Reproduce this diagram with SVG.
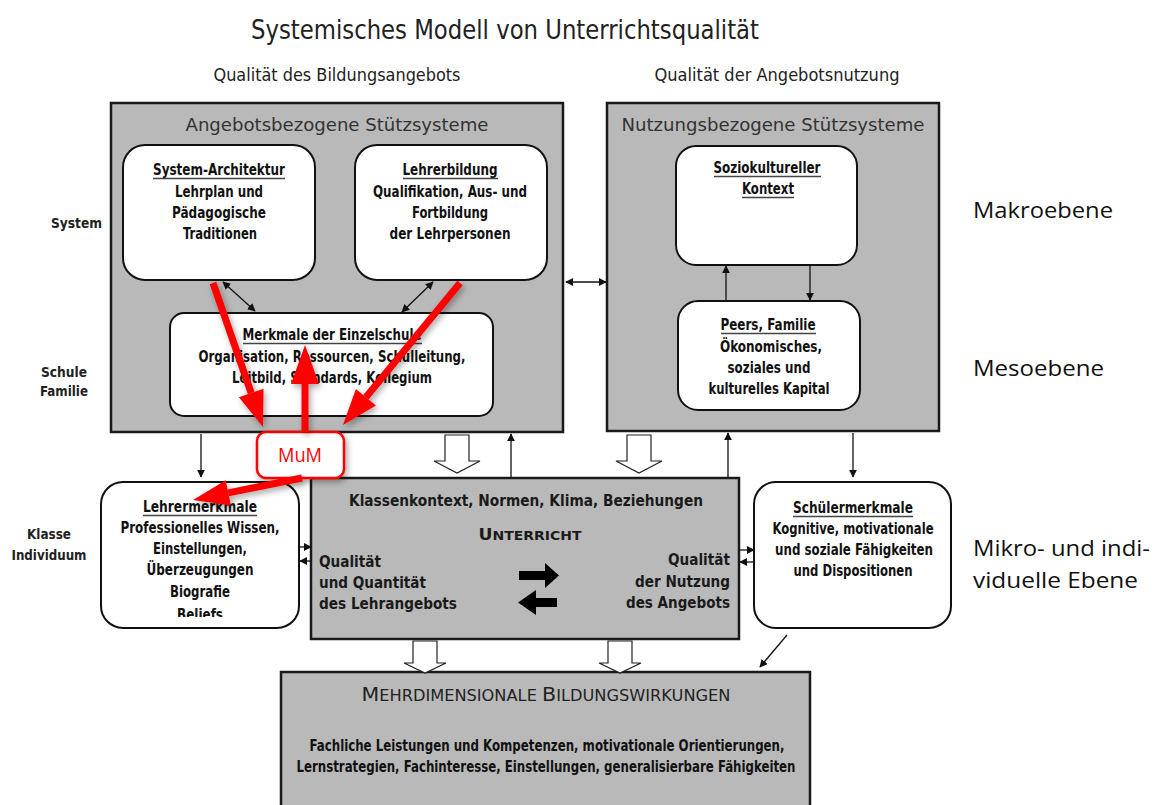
<svg xmlns="http://www.w3.org/2000/svg" width="1161" height="805" viewBox="0 0 1161 805">
<defs>
<marker id="ah" viewBox="0 0 10 10" refX="9" refY="5" markerWidth="8" markerHeight="8" markerUnits="userSpaceOnUse" orient="auto-start-reverse"><path d="M0,0 L10,5 L0,10 z" fill="#111"/></marker>
<filter id="sh" x="-30%" y="-30%" width="160%" height="160%"><feDropShadow dx="2" dy="3" stdDeviation="3" flood-color="#000" flood-opacity="0.35"/></filter>
<clipPath id="clipL"><rect x="100" y="480" width="200" height="137"/></clipPath>
</defs>
<style>
.grey{fill:#b9b9b9;stroke:#1a1a1a;stroke-width:2.5}
.wb{fill:#fff;stroke:#111;stroke-width:2}
.bt{font-family:"Liberation Sans Narrow","DejaVu Sans Condensed","Liberation Sans",sans-serif;font-weight:bold;font-size:15px;fill:#111;text-anchor:middle}
.hd{font-family:"DejaVu Sans","Liberation Sans",sans-serif;font-size:18px;fill:#333;text-anchor:middle}
.vt{font-family:"DejaVu Sans","Liberation Sans",sans-serif;font-weight:bold;font-size:15px;fill:#1a1a1a}
.lv{font-family:"Liberation Sans Narrow","DejaVu Sans Condensed","Liberation Sans",sans-serif;font-weight:bold;font-size:14px;fill:#222}
.rl{font-family:"Open Sans","Noto Sans","Liberation Sans",sans-serif;font-size:22px;fill:#111}
.ul{stroke:#444;stroke-width:1.4}
.cn{stroke:#111;stroke-width:1.3;fill:none}
.hol{fill:#fff;stroke:#222;stroke-width:1.2}
.red{stroke:#ff0000;stroke-width:7;fill:none}
.redh{fill:#ff0000}
</style>

<g id="title">
<text x="505" y="39" font-family="Liberation Sans Narrow, DejaVu Sans Condensed, Liberation Sans, sans-serif" font-size="27" fill="#222" text-anchor="middle" textLength="508" lengthAdjust="spacingAndGlyphs">Systemisches Modell von Unterrichtsqualität</text>
<text x="337" y="81" font-family="Liberation Sans Narrow, DejaVu Sans Condensed, Liberation Sans, sans-serif" font-size="17" fill="#222" text-anchor="middle" textLength="247" lengthAdjust="spacingAndGlyphs">Qualität des Bildungsangebots</text>
<text x="777" y="81" font-family="Liberation Sans Narrow, DejaVu Sans Condensed, Liberation Sans, sans-serif" font-size="17" fill="#222" text-anchor="middle" textLength="245" lengthAdjust="spacingAndGlyphs">Qualität der Angebotsnutzung</text>
</g>

<g id="levels">
<text class="lv" x="102" y="228" text-anchor="end" textLength="51" lengthAdjust="spacingAndGlyphs">System</text>
<text class="lv" x="64" y="377" text-anchor="middle" textLength="46" lengthAdjust="spacingAndGlyphs">Schule</text>
<text class="lv" x="64" y="396" text-anchor="middle" textLength="48" lengthAdjust="spacingAndGlyphs">Familie</text>
<text class="lv" x="49" y="539" text-anchor="middle" textLength="44" lengthAdjust="spacingAndGlyphs">Klasse</text>
<text class="lv" x="49" y="560" text-anchor="middle" textLength="75" lengthAdjust="spacingAndGlyphs">Individuum</text>
<text class="rl" x="973" y="218" textLength="140" lengthAdjust="spacingAndGlyphs">Makroebene</text>
<text class="rl" x="973" y="376" textLength="131" lengthAdjust="spacingAndGlyphs">Mesoebene</text>
<text class="rl" x="973" y="556" textLength="177" lengthAdjust="spacingAndGlyphs">Mikro- und indi-</text>
<text class="rl" x="973" y="588" textLength="165" lengthAdjust="spacingAndGlyphs">viduelle Ebene</text>
</g>

<g id="angebot">
<rect class="grey" x="111" y="103" width="452" height="329"/>
<text class="hd" x="337" y="131" textLength="303" lengthAdjust="spacingAndGlyphs">Angebotsbezogene Stützsysteme</text>
</g>

<g id="nutzung">
<rect class="grey" x="607" y="103" width="332" height="328"/>
<text class="hd" x="773" y="131" textLength="303" lengthAdjust="spacingAndGlyphs">Nutzungsbezogene Stützsysteme</text>
</g>

<g id="systemarchitektur">
<rect class="wb" x="123" y="145" width="192" height="135" rx="22"/>
<text class="bt" x="219" y="175" textLength="132" lengthAdjust="spacingAndGlyphs">System-Architektur</text>
<line class="ul" x1="153" y1="178.5" x2="285" y2="178.5"/>
<text class="bt" x="219" y="197" textLength="88" lengthAdjust="spacingAndGlyphs">Lehrplan und</text>
<text class="bt" x="219" y="218" textLength="94" lengthAdjust="spacingAndGlyphs">Pädagogische</text>
<text class="bt" x="220" y="239" textLength="74" lengthAdjust="spacingAndGlyphs">Traditionen</text>
</g>

<g id="lehrerbildung">
<rect class="wb" x="355" y="145" width="192" height="135" rx="22"/>
<text class="bt" x="450" y="175" textLength="95" lengthAdjust="spacingAndGlyphs">Lehrerbildung</text>
<line class="ul" x1="403" y1="178.5" x2="498" y2="178.5"/>
<text class="bt" x="450" y="197" textLength="154" lengthAdjust="spacingAndGlyphs">Qualifikation, Aus- und</text>
<text class="bt" x="450" y="218" textLength="76" lengthAdjust="spacingAndGlyphs">Fortbildung</text>
<text class="bt" x="450" y="239" textLength="121" lengthAdjust="spacingAndGlyphs">der Lehrpersonen</text>
</g>

<g id="einzelschule">
<rect class="wb" x="170" y="313" width="323" height="103" rx="14"/>
<text class="bt" x="332" y="340" textLength="179" lengthAdjust="spacingAndGlyphs">Merkmale der Einzelschule</text>
<line class="ul" x1="243" y1="343.5" x2="422" y2="343.5"/>
<text class="bt" x="332" y="362" textLength="267" lengthAdjust="spacingAndGlyphs">Organisation, Ressourcen, Schulleitung,</text>
<text class="bt" x="332" y="383" textLength="200" lengthAdjust="spacingAndGlyphs">Leitbild, Standards, Kollegium</text>
</g>

<g id="soziokultur">
<rect class="wb" x="676" y="146" width="181" height="119" rx="20"/>
<text class="bt" x="767" y="173" textLength="107" lengthAdjust="spacingAndGlyphs">Soziokultureller</text>
<line class="ul" x1="714" y1="176.5" x2="821" y2="176.5"/>
<text class="bt" x="768" y="194" textLength="52" lengthAdjust="spacingAndGlyphs">Kontext</text>
<line class="ul" x1="742" y1="197.5" x2="794" y2="197.5"/>
</g>

<g id="peers">
<rect class="wb" x="678" y="301" width="182" height="109" rx="20"/>
<text class="bt" x="768" y="330" textLength="95" lengthAdjust="spacingAndGlyphs">Peers, Familie</text>
<line class="ul" x1="721" y1="333.5" x2="816" y2="333.5"/>
<text class="bt" x="771" y="352" textLength="102" lengthAdjust="spacingAndGlyphs">Ökonomisches,</text>
<text class="bt" x="769" y="373" textLength="83" lengthAdjust="spacingAndGlyphs">soziales und</text>
<text class="bt" x="769" y="394" textLength="121" lengthAdjust="spacingAndGlyphs">kulturelles Kapital</text>
</g>

<g id="lehrermerkmale">
<rect class="wb" x="101" y="482" width="198" height="146" rx="22"/>
<g clip-path="url(#clipL)">
<text class="bt" x="200" y="512" textLength="114" lengthAdjust="spacingAndGlyphs">Lehrermerkmale</text>
<line class="ul" x1="143" y1="515.5" x2="257" y2="515.5"/>
<text class="bt" x="200" y="533" textLength="159" lengthAdjust="spacingAndGlyphs">Professionelles Wissen,</text>
<text class="bt" x="200" y="554" textLength="94" lengthAdjust="spacingAndGlyphs">Einstellungen,</text>
<text class="bt" x="200" y="575" textLength="107" lengthAdjust="spacingAndGlyphs">Überzeugungen</text>
<text class="bt" x="200" y="597" textLength="60" lengthAdjust="spacingAndGlyphs">Biografie</text>
<text class="bt" x="200" y="620" textLength="46" lengthAdjust="spacingAndGlyphs">Beliefs</text>
</g>
</g>

<g id="unterricht">
<rect class="grey" x="311" y="478" width="428" height="161"/>
<text class="vt" x="526" y="506" text-anchor="middle" textLength="354" lengthAdjust="spacingAndGlyphs">Klassenkontext, Normen, Klima, Beziehungen</text>
<text class="vt" x="530" y="540" text-anchor="middle" textLength="103" lengthAdjust="spacingAndGlyphs"><tspan font-size="16">U</tspan><tspan font-size="13">NTERRICHT</tspan></text>
<text class="vt" x="319" y="567" textLength="62" lengthAdjust="spacingAndGlyphs">Qualität</text>
<text class="vt" x="319" y="588" textLength="107" lengthAdjust="spacingAndGlyphs">und Quantität</text>
<text class="vt" x="319" y="609" textLength="138" lengthAdjust="spacingAndGlyphs">des Lehrangebots</text>
<text class="vt" x="730" y="565" text-anchor="end" textLength="62" lengthAdjust="spacingAndGlyphs">Qualität</text>
<text class="vt" x="730" y="587" text-anchor="end" textLength="95" lengthAdjust="spacingAndGlyphs">der Nutzung</text>
<text class="vt" x="730" y="608" text-anchor="end" textLength="104" lengthAdjust="spacingAndGlyphs">des Angebots</text>
<path d="M519,571 L545,571 L545,563 L559,575.5 L545,588 L545,580 L519,580 Z" fill="#000"/>
<path d="M557,598 L536,598 L536,590 L518,602.5 L536,615 L536,607 L557,607 Z" fill="#000"/>
</g>

<g id="schuelermerkmale">
<rect class="wb" x="754" y="482" width="197" height="146" rx="22"/>
<text class="bt" x="853" y="513" textLength="120" lengthAdjust="spacingAndGlyphs">Schülermerkmale</text>
<line class="ul" x1="793" y1="516.5" x2="913" y2="516.5"/>
<text class="bt" x="853" y="534" textLength="161" lengthAdjust="spacingAndGlyphs">Kognitive, motivationale</text>
<text class="bt" x="854" y="555" textLength="158" lengthAdjust="spacingAndGlyphs">und soziale Fähigkeiten</text>
<text class="bt" x="853" y="576" textLength="119" lengthAdjust="spacingAndGlyphs">und Dispositionen</text>
</g>

<g id="wirkungen">
<rect class="grey" x="281" y="672" width="529" height="150"/>
<text x="546" y="701" font-family="DejaVu Sans, Liberation Sans, sans-serif" fill="#222" text-anchor="middle" textLength="369" lengthAdjust="spacingAndGlyphs"><tspan font-size="19">M</tspan><tspan font-size="15">EHRDIMENSIONALE </tspan><tspan font-size="19">B</tspan><tspan font-size="15">ILDUNGSWIRKUNGEN</tspan></text>
<text class="bt" x="547" y="751" textLength="475" lengthAdjust="spacingAndGlyphs">Fachliche Leistungen und Kompetenzen, motivationale Orientierungen,</text>
<text class="bt" x="546" y="772" textLength="499" lengthAdjust="spacingAndGlyphs">Lernstrategien, Fachinteresse, Einstellungen, generalisierbare Fähigkeiten</text>
</g>

<g id="connectors">
<line class="cn" x1="223" y1="282" x2="255" y2="311" marker-start="url(#ah)" marker-end="url(#ah)"/>
<line class="cn" x1="433" y1="282" x2="402" y2="312" marker-start="url(#ah)" marker-end="url(#ah)"/>
<line class="cn" x1="566" y1="282" x2="606" y2="282" marker-start="url(#ah)" marker-end="url(#ah)"/>
<line class="cn" x1="726" y1="301" x2="726" y2="266" marker-end="url(#ah)"/>
<line class="cn" x1="810" y1="265" x2="810" y2="300" marker-end="url(#ah)"/>
<line class="cn" x1="201" y1="434" x2="201" y2="477" marker-end="url(#ah)"/>
<line class="cn" x1="511" y1="477" x2="511" y2="434" marker-end="url(#ah)"/>
<line class="cn" x1="728" y1="477" x2="728" y2="433" marker-end="url(#ah)"/>
<line class="cn" x1="853" y1="433" x2="853" y2="477" marker-end="url(#ah)"/>
<line class="cn" x1="787" y1="635" x2="760" y2="667" marker-end="url(#ah)"/>
<line class="cn" x1="300" y1="547" x2="311" y2="547" marker-end="url(#ah)"/>
<line class="cn" x1="311" y1="561" x2="300" y2="561" marker-end="url(#ah)"/>
<line class="cn" x1="739" y1="550" x2="754" y2="550" marker-end="url(#ah)"/>
<line class="cn" x1="754" y1="562" x2="740" y2="562" marker-end="url(#ah)"/>
<path class="hol" d="M445,435 L469,435 L469,461 L480,461 L457,473 L434,461 L445,461 Z"/>
<path class="hol" d="M627,435 L651,435 L651,461 L662,461 L639,473 L616,461 L627,461 Z"/>
<path class="hol" d="M413,641 L437,641 L437,663 L446,663 L425,673 L404,663 L413,663 Z"/>
<path class="hol" d="M608,641 L632,641 L632,663 L641,663 L620,673 L599,663 L608,663 Z"/>
</g>

<g id="mum">
<rect x="257" y="432" width="87" height="46" rx="9" fill="#fff" stroke="#ff0000" stroke-width="2.5" filter="url(#sh)"/>
<text x="300" y="462" font-family="Open Sans, Liberation Sans, sans-serif" font-size="20" fill="#ff0000" text-anchor="middle" textLength="44" lengthAdjust="spacingAndGlyphs">MuM</text>
</g>

<g id="red-arrows" filter="url(#sh)">
<line class="red" x1="213" y1="283" x2="251.2" y2="393"/>
<path class="redh" d="M263,427 L238.9,397.3 L263.5,388.7 Z"/>
<line class="red" x1="305" y1="432" x2="305" y2="382"/>
<path class="redh" d="M305,345 L291,384 L319,384 Z"/>
<line class="red" x1="460" y1="283" x2="365.9" y2="397.2"/>
<path class="redh" d="M343,425 L355.9,388.9 L375.9,405.5 Z"/>
<line class="red" x1="302" y1="478" x2="228.3" y2="492.9"/>
<path class="redh" d="M193,500 L225.7,480.2 L230.9,505.6 Z"/>
</g>
</svg>
